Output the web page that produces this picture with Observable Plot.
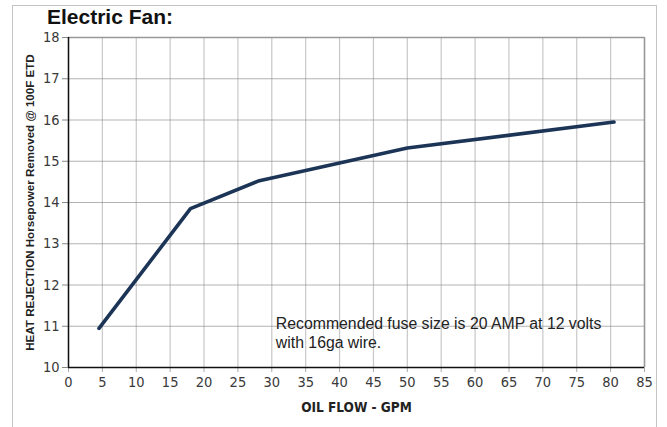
<!DOCTYPE html>
<html><head><meta charset="utf-8">
<script src="https://cdn.jsdelivr.net/npm/d3@7"></script>
<script src="https://cdn.jsdelivr.net/npm/@observablehq/plot@0.6"></script>
<style>
body{margin:0;background:#fff;}
#wrap{position:relative;width:667px;height:427px;overflow:hidden;font-family:"Liberation Sans",Arial,sans-serif;}
#chart svg{position:absolute;left:0;top:0;}
#frame{position:absolute;left:12px;top:5px;width:643px;height:440px;border:1.5px solid #c4c4c4;}
#title{position:absolute;left:47px;top:5px;font-weight:bold;font-size:21px;color:#111;}
</style></head><body>
<div id="wrap"><div id="chart"></div><div id="frame"></div><div id="title">Electric Fan:</div></div>
<script>
const flow = [4.5, 18, 28, 50, 80.5];
const hp = [10.95, 13.85, 14.52, 15.32, 15.95];
const xTicks = [0, 5, 10, 15, 20, 25, 30, 35, 40, 45, 50, 55, 60, 65, 70, 75, 80, 85];
const yTicks = [10, 11, 12, 13, 14, 15, 16, 17, 18];
const xLabel = "OIL FLOW - GPM";
const yLabel = "HEAT REJECTION Horsepower Removed @ 100F ETD";
const note = "Recommended fuse size is 20 AMP at 12 volts\nwith 16ga wire.";

const data = flow.map((x, i) => ({x, y: hp[i]}));
const narrow = "'DejaVu Sans Condensed','Liberation Sans',Arial,sans-serif";

const chart = Plot.plot({
  width: 667,
  height: 427,
  marginLeft: 68,
  marginRight: 23,
  marginTop: 37,
  marginBottom: 60,
  style: {fontFamily: narrow, background: "transparent"},
  x: {domain: [0, 85]},
  y: {domain: [10, 18]},
  marks: [
    Plot.gridX(xTicks, {stroke: "#9a9a9a", strokeOpacity: 0.55, strokeWidth: 1.2}),
    Plot.gridY(yTicks, {stroke: "#8a8a8a", strokeOpacity: 0.65, strokeWidth: 1.2}),
    Plot.ruleX([85], {stroke: "#999", strokeWidth: 1.5}),
    Plot.ruleY([18], {stroke: "#999", strokeWidth: 1.5}),
    Plot.axisY(yTicks, {tickSize: 6, tickPadding: 3, fontSize: 14.5, color: "#3a3a3a", label: null, stroke: "#888", fontFamily: narrow}),
    Plot.axisX(xTicks, {tickSize: 5, tickPadding: 4, fontSize: 14.5, color: "#3a3a3a", label: null, stroke: "#aaa", fontFamily: narrow}),
    Plot.ruleX([0], {stroke: "#111", strokeWidth: 1.5}),
    Plot.ruleY([10], {stroke: "#111", strokeWidth: 1.5}),
    Plot.line(data, {x: "x", y: "y", stroke: "#1c3557", strokeWidth: 3.6, strokeLinejoin: "round"}),
    Plot.text([note], {x: 30.6, y: 11.27, text: d => d, textAnchor: "start", lineAnchor: "top", fontSize: 15.8, lineHeight: 1.22, fill: "#222", fontFamily: "'Liberation Sans',Arial,sans-serif"}),
    Plot.text([yLabel], {frameAnchor: "left", textAnchor: "middle", text: d => d, rotate: -90, dx: -38, fontSize: 11.6, fontWeight: "bold", fill: "#222", fontFamily: "'Liberation Sans',Arial,sans-serif"}),
    Plot.text([xLabel], {frameAnchor: "bottom", text: d => d, dy: 44, fontSize: 13.5, fontWeight: "bold", fill: "#222", fontFamily: narrow})
  ]
});
document.getElementById("chart").appendChild(chart);
</script>
</body></html>
